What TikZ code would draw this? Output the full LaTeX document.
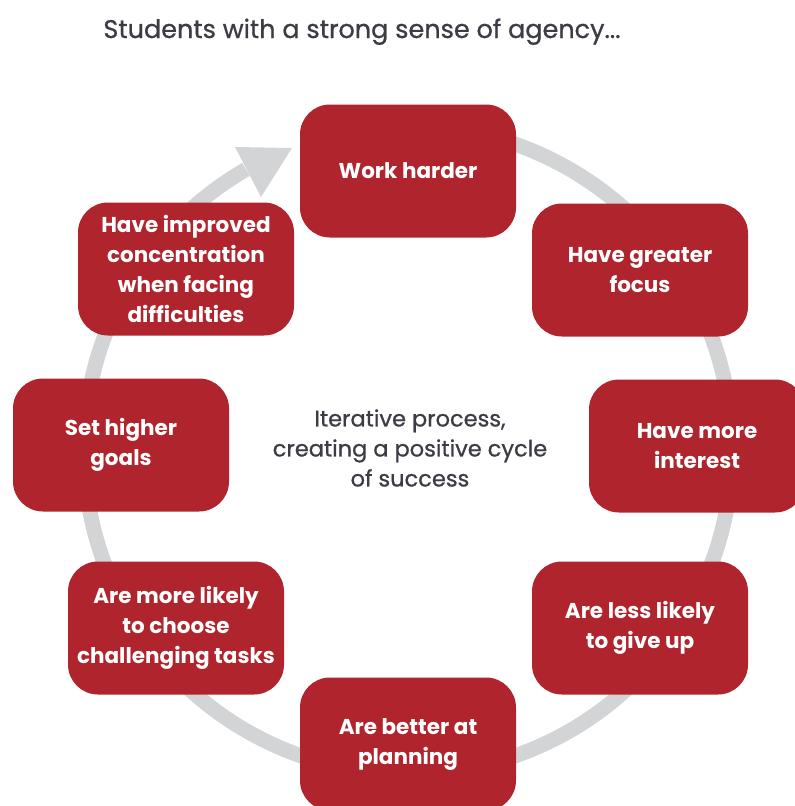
\documentclass[tikz,border=0pt]{standalone}
\usepackage{fontspec}
\setmainfont{Poppins}
\newfontfamily\popmed[FakeBold=0.8]{Poppins}
\definecolor{boxred}{HTML}{B0252D}
\definecolor{ringgray}{HTML}{D3D4D6}
\definecolor{txtgray}{HTML}{3C3C44}
\begin{document}
\begin{tikzpicture}[x=1pt,y=-1pt,
  stepbox/.style={fill=boxred, rounded corners=30pt, minimum width=216pt, minimum height=133pt,
    text=white, align=center, inner sep=0pt,
    font=\fontsize{21.5}{30}\selectfont\bfseries},
  ring/.style={draw=ringgray, line width=15pt},
  plain/.style={text=txtgray, align=center, inner sep=0pt}]
\useasboundingbox (0,0) rectangle (795,806);
\coordinate (c) at (408,450);
% ring
\draw[ring] (c) ++(100:324pt) arc[start angle=100, end angle=-240, radius=324pt];
\fill[ringgray] (235,147) -- (292,148) -- (261,197) -- cycle;
% title
\node[plain, anchor=base, font=\fontsize{25.5}{30}\popmed] (title) at (362,38) {Students with a strong sense of agency...};
% center
\node[plain, font=\fontsize{22.5}{30}\popmed] (mid) at (410,448) {Iterative process,\\creating a positive cycle\\of success};
% boxes
\node[stepbox] (b1) at (408,171) {Work harder};
\node[stepbox] (b2) at (640,270) {Have greater\\focus};
\node[stepbox] (b3) at (697,446) {Have more\\interest};
\node[stepbox] (b4) at (640,628) {Are less likely\\to give up};
\node[stepbox] (b5) at (408,744) {Are better at\\planning};
\node[stepbox] (b6) at (176,628) {Are more likely\\to choose\\challenging tasks};
\node[stepbox] (b7) at (121,445) {Set higher\\goals};
\node[stepbox] (b8) at (186,269) {Have improved\\concentration\\when facing\\difficulties};
\end{tikzpicture}
\end{document}
